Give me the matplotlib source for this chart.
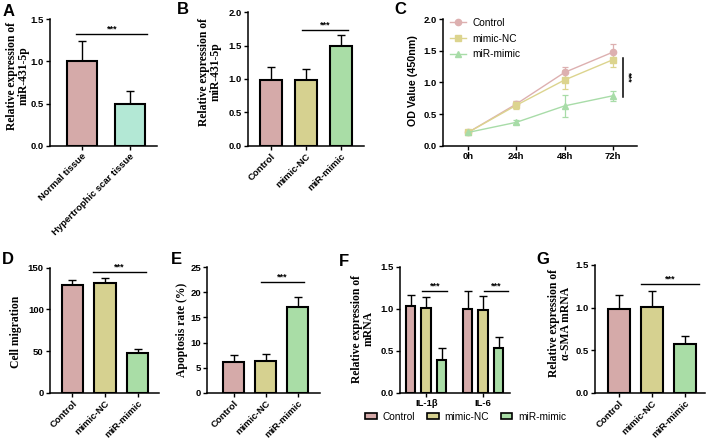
import numpy as np
import matplotlib
matplotlib.use("Agg")
import matplotlib.pyplot as plt
from matplotlib.patches import Patch
from matplotlib.lines import Line2D

# ---- data ----
a_groups = ["Normal tissue", "Hypertrophic scar tissue"]
a_mean = [1.01, 0.50]
a_err = [0.23, 0.15]

groups = ["Control", "mimic-NC", "miR-mimic"]
b_mean = [0.98, 0.99, 1.50]
b_err = [0.20, 0.16, 0.16]

c_times = ["0h", "24h", "48h", "72h"]
c_control = [0.21, 0.66, 1.16, 1.48]
c_control_sd = [0.03, 0.05, 0.09, 0.13]
c_nc = [0.21, 0.64, 1.04, 1.36]
c_nc_sd = [0.03, 0.06, 0.15, 0.11]
c_mimic = [0.21, 0.37, 0.63, 0.79]
c_mimic_sd = [0.02, 0.03, 0.17, 0.08]

d_mean = [129, 132, 48]
d_err = [6, 6, 5]

e_mean = [6.1, 6.3, 17.0]
e_err = [1.4, 1.5, 2.0]

f_genes = ["IL-1β", "IL-6"]
f_control = [1.03, 1.00]
f_control_err = [0.13, 0.21]
f_nc = [1.01, 0.99]
f_nc_err = [0.13, 0.16]
f_mimic = [0.39, 0.54]
f_mimic_err = [0.15, 0.13]

g_mean = [0.98, 1.01, 0.57]
g_err = [0.17, 0.19, 0.10]

# ---- style ----
col_ctrl = "#D5AAA9"
col_nc = "#D6D190"
col_mimic = "#A9DDA6"
col_mint = "#B3E8D5"
line_cols = ["#DDB0B0", "#DCD48E", "#A8DCA8"]

SANS = "Liberation Sans"
SERIF = "Liberation Serif"
TICK_FS = 6.8
LAB_FS = 8.4

W, H = 709, 442
fig = plt.figure(figsize=(W / 100, H / 100), dpi=100)


def add_ax(x0, y0, x1, y1):
    ax = fig.add_axes([x0 / W, 1 - y1 / H, (x1 - x0) / W, (y1 - y0) / H])
    for s in ["top", "right"]:
        ax.spines[s].set_visible(False)
    for s in ["left", "bottom"]:
        ax.spines[s].set_linewidth(1.1)
    ax.tick_params(width=1.0, length=3, labelsize=TICK_FS, pad=1.5)
    return ax


def style_ticks(ax):
    for lab in ax.get_yticklabels() + ax.get_xticklabels():
        lab.set_fontweight("bold")
        lab.set_fontfamily(SANS)


def bars(ax, x, mean, err, colors, width):
    ax.errorbar(x, mean, yerr=[np.zeros(len(mean)), err], fmt="none",
                ecolor="black", elinewidth=1.0, capsize=3, capthick=1.0, zorder=1)
    ax.bar(x, mean, width=width, color=colors, edgecolor="black", linewidth=1.5, zorder=2)


def sig(ax, x0, x1, y, fs=6.5):
    ax.plot([x0, x1], [y, y], color="black", lw=1.0, clip_on=False)
    ax.text((x0 + x1) / 2, y, "***", ha="center", va="bottom", fontsize=fs,
            family=SANS, fontweight="bold")


def ylab(ax, text, xr, yc, family=SERIF, fs=LAB_FS):
    # xr: right edge of the label block (px), yc: vertical centre (px)
    ax.set_ylabel(text, family=family, fontweight="bold", fontsize=fs, linespacing=1.05)
    ax.yaxis.set_label_coords(xr / W, 1 - yc / H, transform=fig.transFigure)


def letter(x, y, t):
    fig.text(x / W, 1 - y / H, t, fontsize=12, fontweight="bold", family=SANS,
             ha="center", va="center")


def rot_labels(ax, labels):
    ax.set_xticklabels(labels, rotation=45, ha="right", rotation_mode="anchor",
                       fontsize=TICK_FS, fontweight="bold", family=SANS)


# ---- A ----
ax = add_ax(50, 19.3, 157, 145.7)
xa = np.arange(len(a_groups))
bars(ax, xa, a_mean, a_err, [col_ctrl, col_mint], 0.63)
ax.set_xlim(-0.67, 1.576)
ax.set_ylim(0, 1.5)
ax.set_yticks([0, 0.5, 1.0, 1.5])
ax.set_yticklabels(["0.0", "0.5", "1.0", "1.5"])
ax.set_xticks(xa)
rot_labels(ax, a_groups)
style_ticks(ax)
sig(ax, -0.12, 1.37, 1.325)
ylab(ax, "Relative expression of\nmiR-431-5p", 30, 76)

# ---- B ----
ax = add_ax(248, 12.3, 364, 145.7)
xb = np.arange(len(groups))
bars(ax, xb, b_mean, b_err, [col_ctrl, col_nc, col_mimic], 0.63)
ax.set_xlim(-0.66, 2.66)
ax.set_ylim(0, 2.0)
ax.set_yticks([0, 0.5, 1.0, 1.5, 2.0])
ax.set_yticklabels(["0.0", "0.5", "1.0", "1.5", "2.0"])
ax.set_xticks(xb)
rot_labels(ax, groups)
style_ticks(ax)
sig(ax, 0.89, 2.2, 1.735)
ylab(ax, "Relative expression of\nmiR-431-5p", 222, 72)

# ---- C ----
ax = add_ax(443, 19.3, 637, 145.7)
xc = np.arange(len(c_times))
markers = ["o", "s", "^"]
names = ["Control", "mimic-NC", "miR-mimic"]
handles_c = []
for vals, sd, col, mk in zip([c_control, c_nc, c_mimic],
                             [c_control_sd, c_nc_sd, c_mimic_sd],
                             line_cols, markers):
    ax.errorbar(xc, vals, yerr=sd, color=col, marker=mk, markersize=4.5, lw=1.0,
                elinewidth=0.9, capsize=2.5, capthick=0.9)
    handles_c.append(Line2D([], [], color=col, marker=mk, markersize=4.5, lw=1.0))
ax.set_xlim(-0.52, 3.5)
ax.set_ylim(0, 2.0)
ax.set_yticks([0, 0.5, 1.0, 1.5, 2.0])
ax.set_yticklabels(["0.0", "0.5", "1.0", "1.5", "2.0"])
ax.set_xticks(xc)
ax.set_xticklabels(c_times)
style_ticks(ax)
ax.plot([3.21, 3.21], [0.77, 1.39], color="black", lw=1.1)
ax.text(3.31, 1.08, "***", rotation=-90, ha="center", va="center", fontsize=6.5,
        family=SANS, fontweight="bold")
ylab(ax, "OD Value (450nm)", 418, 81, family=SANS, fs=7.7)
ax.legend(handles_c, names, loc="upper left", bbox_to_anchor=(450 / W, 1 - 18 / H),
          bbox_transform=fig.transFigure, frameon=False,
          prop={"family": SANS, "size": 7.3}, handlelength=1.6, handletextpad=0.6,
          labelspacing=0.55, borderaxespad=0, borderpad=0)

# ---- D ----
ax = add_ax(50, 267.7, 159, 392.7)
xd = np.arange(len(groups))
bars(ax, xd, d_mean, d_err, [col_ctrl, col_nc, col_mimic], 0.65)
ax.set_xlim(-0.69, 2.66)
ax.set_ylim(0, 150)
ax.set_yticks([0, 50, 100, 150])
ax.set_xticks(xd)
rot_labels(ax, groups)
style_ticks(ax)
sig(ax, 0.63, 2.26, 145)
ylab(ax, "Cell migration", 22, 332)

# ---- E ----
ax = add_ax(207.3, 267.3, 320, 392.7)
xe = np.arange(len(groups))
bars(ax, xe, e_mean, e_err, [col_ctrl, col_nc, col_mimic], 0.66)
ax.set_xlim(-0.82, 2.70)
ax.set_ylim(0, 25)
ax.set_yticks([0, 5, 10, 15, 20, 25])
ax.set_xticks(xe)
rot_labels(ax, groups)
style_ticks(ax)
sig(ax, 0.86, 2.2, 22.1)
ylab(ax, "Apoptosis rate (%)", 188, 330)

# ---- F ----
ax = add_ax(400, 266.7, 510, 393)
xf = np.arange(len(f_genes))
off = 0.272
wf = 0.167
for k, (vals, err, col) in enumerate(zip([f_control, f_nc, f_mimic],
                                         [f_control_err, f_nc_err, f_mimic_err],
                                         [col_ctrl, col_nc, col_mimic])):
    bars(ax, xf + (k - 1) * off, vals, err, [col] * len(vals), wf)
ax.set_xlim(-0.46, 1.47)
ax.set_ylim(0, 1.5)
ax.set_yticks([0, 0.5, 1.0, 1.5])
ax.set_yticklabels(["0.0", "0.5", "1.0", "1.5"])
ax.set_xticks(xf)
ax.set_xticklabels(f_genes)
style_ticks(ax)
sig(ax, -0.07, 0.37, 1.216)
sig(ax, 1.02, 1.44, 1.216)
ylab(ax, "Relative expression of\nmRNA", 375, 329)
handles = [Patch(facecolor=c, edgecolor="black", linewidth=1.2)
           for c in [col_ctrl, col_nc, col_mimic]]
fig.legend(handles, names, loc="center", bbox_to_anchor=(466 / W, 1 - 417 / H),
           ncol=3, frameon=False, prop={"family": SANS, "size": 7.3},
           handlelength=1.1, handleheight=0.55, handletextpad=0.6, columnspacing=1.2)

# ---- G ----
ax = add_ax(595, 265, 705, 392.7)
xg = np.arange(len(groups))
bars(ax, xg, g_mean, g_err, [col_ctrl, col_nc, col_mimic], 0.67)
ax.set_xlim(-0.73, 2.6)
ax.set_ylim(0, 1.5)
ax.set_yticks([0, 0.5, 1.0, 1.5])
ax.set_yticklabels(["0.0", "0.5", "1.0", "1.5"])
ax.set_xticks(xg)
rot_labels(ax, groups)
style_ticks(ax)
sig(ax, 0.67, 2.42, 1.277)
ylab(ax, "Relative expression of\n\u03b1-SMA mRNA", 572, 323)

# ---- panel letters ----
letter(9, 12, "A")
letter(183, 10, "B")
letter(400, 10, "C")
letter(8, 260, "D")
letter(176, 260, "E")
letter(344, 261, "F")
letter(543, 260, "G")

fig.savefig("out.png", dpi=100)
